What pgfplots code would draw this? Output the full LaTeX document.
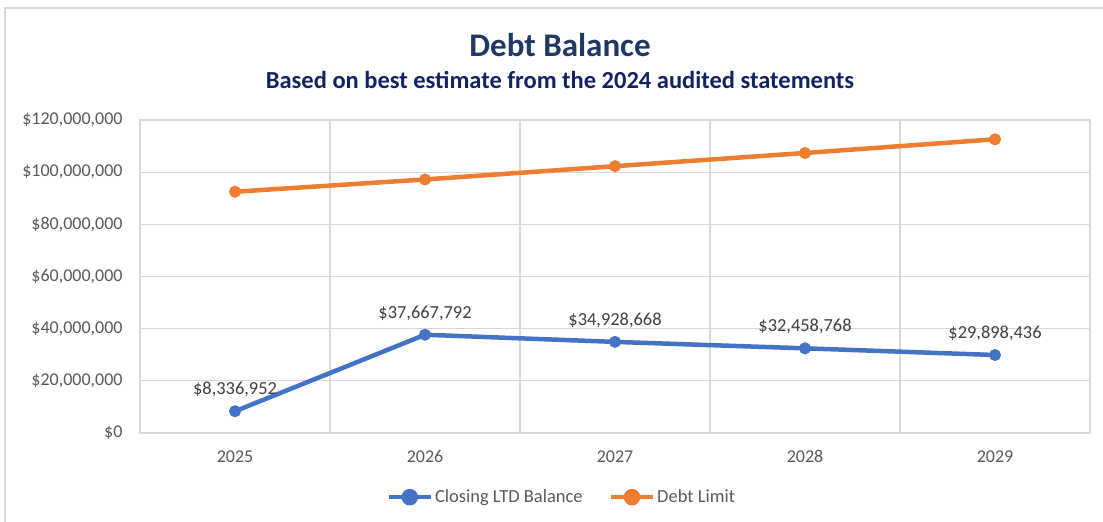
\documentclass[border=0pt]{standalone}
\usepackage{pgfplots}
\pgfplotsset{compat=1.18}
\usepackage{fontspec}
\setmainfont{Carlito}
\definecolor{cblue}{HTML}{4472C4}
\definecolor{corange}{HTML}{ED7D31}
\definecolor{ctitle}{HTML}{1F3864}
\definecolor{csub}{HTML}{0F2461}
\definecolor{cgrid}{HTML}{D9D9D9}
\definecolor{ctick}{HTML}{595959}
\definecolor{clab}{HTML}{404040}
\begin{document}
\begin{tikzpicture}
\path[use as bounding box] (0pt,0pt) rectangle (1103pt,522pt);
\draw[cgrid, line width=1.2pt] (5pt,-5pt) -- (5pt,514pt) -- (1110pt,514pt);
\node[font=\fontsize{33}{37}\selectfont\bfseries, text=ctitle] at (560pt,477pt) {Debt Balance};
\node[font=\fontsize{24.5}{28}\selectfont\bfseries, text=csub] at (560pt,442pt) {Based on best estimate from the 2024 audited statements};
\begin{axis}[
  at={(140pt,89pt)}, anchor=south west,
  width=950pt, height=313pt, scale only axis,
  xmin=-0.5, xmax=4.5, ymin=0, ymax=120000000,
  xtick={0,1,2,3,4}, xticklabels={2025,2026,2027,2028,2029},
  minor xtick={-0.5,0.5,1.5,2.5,3.5,4.5},
  xminorgrids, ymajorgrids,
  ytick={0,20000000,40000000,60000000,80000000,100000000,120000000},
  scaled y ticks=false,
  /pgf/number format/assume math mode=true,
  yticklabel={\$\pgfmathprintnumber[fixed,precision=0,1000 sep={,}]{\tick}},
  major tick length=0pt, minor tick length=0pt,
  axis line style={cgrid, line width=1.2pt},
  grid style={cgrid, line width=1.2pt},
  minor grid style={cgrid, line width=1.2pt},
  tick label style={font=\fontsize{18}{21}\selectfont, text=ctick},
  yticklabel style={xshift=-14pt},
  xticklabel style={yshift=-14pt},
  legend style={at={(0.444,-0.205)}, anchor=center, draw=none, fill=none,
    font=\fontsize{18.5}{21}\selectfont, text=ctick, legend columns=2,
    nodes={inner sep=2pt},
    /tikz/every even column/.append style={column sep=24pt}},
  legend cell align=left,
  legend image code/.code={\draw[#1, line width=4.5pt] (0pt,0pt) -- (42pt,0pt); \fill[#1] (21pt,0pt) circle (6pt);},
]
\addplot[cblue, line width=4.5pt, mark=*, mark size=5.5pt, mark options={solid, fill=cblue, draw=cblue, line width=1pt},
  nodes near coords, point meta=explicit symbolic,
  every node near coord/.append style={font=\fontsize{18.4}{21}\selectfont, text=clab, yshift=10.5pt}]
coordinates {
(0,8336952) [\$8,336,952]
(1,37667792) [\$37,667,792]
(2,34928668) [\$34,928,668]
(3,32458768) [\$32,458,768]
(4,29898436) [\$29,898,436]
};
\addlegendentry{Closing LTD Balance}
\addplot[corange, line width=4.5pt, mark=*, mark size=5.5pt, mark options={solid, fill=corange, draw=corange, line width=1pt}]
coordinates {
(0,92500000)
(1,97200000)
(2,102300000)
(3,107350000)
(4,112600000)
};
\addlegendentry{Debt Limit}
\end{axis}
\end{tikzpicture}
\end{document}
